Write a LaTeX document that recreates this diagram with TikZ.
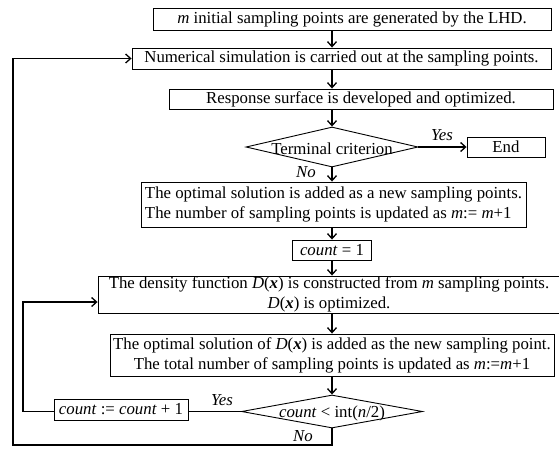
\documentclass[tikz,border=0pt]{standalone}
\usepackage{fontspec}
\setmainfont{Liberation Serif}
\usepackage{tikz}
\usetikzlibrary{arrows.meta,positioning,shapes.geometric,calc}
\newcommand{\fsz}{\fontsize{16.8}{20}\selectfont}
\tikzset{
  blk/.style={draw,line width=0.9pt,inner sep=0pt,font=\fsz,align=center},
  dec/.style={draw,line width=0.9pt,diamond,inner sep=0pt},
  arr/.style={-{Straight Barb[length=5pt,width=9pt]},line width=1.3pt},
  ln/.style={line width=1.3pt},
  lbl/.style={font=\fsz\itshape,inner sep=0pt},
  txt/.style={font=\fsz,inner sep=0pt},
}

\begin{document}
\begin{tikzpicture}[x=1pt,y=-1pt]
  \useasboundingbox (0,0) rectangle (559,448);
  % main column
  \node[blk,minimum width=398,minimum height=22](init) at (352,19)
    {\textit{m} initial sampling points are generated by the LHD.};
  \node[blk,minimum width=419,minimum height=21](sim) at (341.5,58.5)
    {Numerical simulation is carried out at the sampling points.};
  \node[blk,minimum width=384,minimum height=20](rsm) at (361,99)
    {Response surface is developed and optimized.};
  \node[dec,minimum width=172,minimum height=40](term) at (332,147) {};
  \node[txt](termtxt) at ([yshift=-2]term) {Terminal criterion};
  \node[blk,minimum width=78,minimum height=20](end) at (506,147) {End};
  \node[blk,align=left,minimum width=385,minimum height=45](addpt) at (333.5,204.5)
    {The optimal solution is added as a new sampling points.\\
     The number of sampling points is updated as \textit{m}:= \textit{m}+1};
  \node[blk,minimum width=79,minimum height=20](cnt) at (332,250) {\textit{count} = 1};
  \node[blk,minimum width=462,minimum height=37](dens) at (329,294.5)
    {The density function \textit{D}(\textbf{\textit{x}}) is constructed from \textit{m} sampling points.\\
     \textit{D}(\textbf{\textit{x}}) is optimized.};
  \node[blk,minimum width=444,minimum height=42](addd) at (332,355)
    {The optimal solution of \textit{D}(\textbf{\textit{x}}) is added as the new sampling point.\\
     The total number of sampling points is updated as \textit{m}:=\textit{m}+1};
  \node[dec,minimum width=181,minimum height=33](chk) at (332,411.5) {};
  \node[txt](chktxt) at ([yshift=-2]chk) {\textit{count} < int(\textit{n}/2)};
  % side loop
  \node[blk,minimum width=134,minimum height=21](inc) at (121,409.5)
    {\textit{count} := \textit{count} + 1};

  % labels
  \node[lbl](yes1) at (442,135) {Yes};
  \node[lbl](no1)  at (306,172) {No};
  \node[lbl](yes2) at (222,400) {Yes};
  \node[lbl](no2)  at (303,436) {No};

  \coordinate (back)  at (13,445);
  \coordinate (inner) at (23,302);

  % arrows down the column
  \draw[arr](init.south -| term)  -- (sim.north -| term);
  \draw[arr](sim.south -| term)   -- (rsm.north -| term);
  \draw[arr](rsm.south -| term)   -- (term.north);
  \draw[arr](term.east)           -- (end.west);
  \draw[arr](term.south)          -- (addpt.north -| term);
  \draw[arr](addpt.south -| term) -- (cnt.north);
  \draw[arr](cnt.south)           -- (dens.north -| term);
  \draw[arr](dens.south -| term)  -- (addd.north -| term);
  \draw[arr](addd.south -| term)  -- (chk.north);

  % loops
  \draw[ln](chk.west) -- (chk.west -| inc.east);
  \draw[arr](chk.west -| inc.west) -| (inner) -- (inner -| dens.west);
  \draw[arr](chk.south) |- (back) |- (sim.west);
\end{tikzpicture}
\end{document}
